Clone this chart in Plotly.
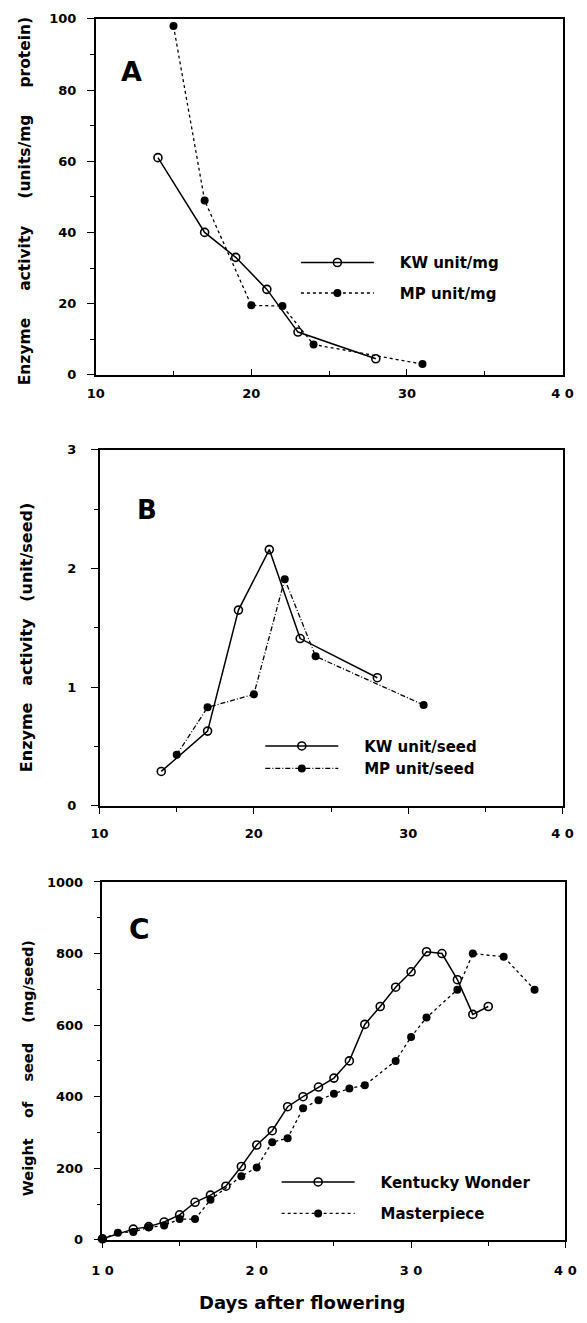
import plotly.graph_objects as go

W, H = 587, 1323

# ---------------- data ----------------
# Panel A: enzyme activity (units/mg protein)
a_kw_days = [14, 17, 19, 21, 23, 28]
a_kw_vals = [61, 40, 33, 24, 12, 4.5]
a_mp_days = [15, 17, 20, 22, 24, 31]
a_mp_vals = [98, 49, 19.5, 19.3, 8.5, 3]

# Panel B: enzyme activity (unit/seed)
b_kw_days = [14, 17, 19, 21, 23, 28]
b_kw_vals = [0.29, 0.63, 1.65, 2.16, 1.41, 1.08]
b_mp_days = [15, 17, 20, 22, 24, 31]
b_mp_vals = [0.43, 0.83, 0.94, 1.91, 1.26, 0.85]

# Panel C: weight of seed (mg/seed)
c_kw_days = [10, 12, 13, 14, 15, 16, 17, 18, 19, 20, 21, 22, 23, 24, 25,
             26, 27, 28, 29, 30, 31, 32, 33, 34, 35]
c_kw_vals = [3, 30, 37, 50, 70, 105, 125, 150, 205, 265, 305, 372, 400, 427, 452,
             500, 602, 652, 706, 749, 805, 800, 727, 630, 652]
c_mp_days = [10, 11, 12, 13, 14, 15, 16, 17, 19, 20, 21, 22, 23, 24, 25,
             26, 27, 29, 30, 31, 33, 34, 36, 38]
c_mp_vals = [3, 20, 22, 35, 40, 58, 58, 112, 178, 202, 273, 284, 368, 390, 408,
             423, 432, 500, 567, 621, 699, 800, 791, 699]

x_tickvals = [10, 20, 30, 40]
x_ticktext_a = ["10", "20", "30", "4 0"]
x_ticktext_b = ["10", "20", "30", "4 0"]
x_ticktext_c = ["1 0", "2 0", "3 0", "4 0"]

# ---------------- layout helpers ----------------
def xdom(l, r):
    return [l / W, r / W]

def ydom(top, bottom):
    return [1 - bottom / H, 1 - top / H]

FONT = "DejaVu Sans"

open_marker = dict(symbol="circle-open", size=8, color="black", line=dict(width=1.6, color="black"))
fill_marker = dict(symbol="circle", size=8, color="black")

NBSP = "\u00a0"

fig = go.Figure()

def add_pair(xa, ya, kw_x, kw_y, mp_x, mp_y, kw_name, mp_name, leg, mp_dash):
    fig.add_trace(go.Scatter(
        x=kw_x, y=kw_y, mode="lines+markers", name=kw_name,
        line=dict(color="black", width=1.5), marker=open_marker,
        xaxis=xa, yaxis=ya, legend=leg, legendgroup=leg + "kw", cliponaxis=False))
    fig.add_trace(go.Scatter(
        x=mp_x, y=mp_y, mode="lines+markers", name=mp_name,
        line=dict(color="black", width=1.3, dash=mp_dash), marker=fill_marker,
        xaxis=xa, yaxis=ya, legend=leg, legendgroup=leg + "mp", cliponaxis=False))

pad = NBSP * 4
add_pair("x", "y", a_kw_days, a_kw_vals, a_mp_days, a_mp_vals,
         pad + "KW unit/mg", pad + "MP unit/mg", "legend", "dot")
add_pair("x2", "y2", b_kw_days, b_kw_vals, b_mp_days, b_mp_vals,
         pad + "KW unit/seed", pad + "MP unit/seed", "legend2", "5px,2px,1px,2px")
add_pair("x3", "y3", c_kw_days, c_kw_vals, c_mp_days, c_mp_vals,
         pad + "Kentucky Wonder", pad + "Masterpiece", "legend3", "dot")

axis_common = dict(showline=True, linecolor="black", linewidth=1.5, mirror=True,
                   showgrid=False, zeroline=False,
                   tickfont=dict(family=FONT, size=13, color="black", weight="bold"),
                   tickcolor="black", tickwidth=1.3)

def xaxis(dom, anchor, ticktext, ticks, standoff):
    return dict(axis_common, domain=dom, anchor=anchor, range=[10, 40],
                tickvals=x_tickvals, ticktext=ticktext, ticks=ticks, ticklen=6,
                ticklabelstandoff=standoff,
                minor=dict(dtick=5, tick0=10, ticks=ticks, ticklen=4, tickcolor="black"))

def yaxis(dom, anchor, rng, dtick, mdtick, standoff):
    return dict(axis_common, domain=dom, anchor=anchor, range=rng, dtick=dtick, tick0=0,
                ticks="outside", ticklen=7, ticklabelstandoff=standoff,
                minor=dict(dtick=mdtick, tick0=0, ticks="outside", ticklen=4, tickcolor="black"))

fig.update_layout(
    width=W, height=H,
    margin=dict(l=0, r=0, t=0, b=0),
    paper_bgcolor="white", plot_bgcolor="white",
    xaxis=xaxis(xdom(88, 573), "y", x_ticktext_a, "inside", 6),
    yaxis=yaxis(ydom(12, 372), "x", [0, 100], 20, 10, 8),
    xaxis2=xaxis(xdom(92, 573), "y2", x_ticktext_b, "outside", 9),
    yaxis2=yaxis(ydom(448, 808), "x2", [0, 3], 1, 0.5, 12),
    xaxis3=xaxis(xdom(95, 576), "y3", x_ticktext_c, "outside", 12),
    yaxis3=yaxis(ydom(885, 1247), "x3", [0, 1000], 200, 100, 8),
)

leg_common = dict(bgcolor="rgba(0,0,0,0)", borderwidth=0, itemwidth=73,
                  font=dict(family=FONT, size=15, color="black", weight="bold"),
                  xanchor="left", yanchor="top", xref="paper", yref="paper",
                  traceorder="grouped", itemclick=False)
fig.update_layout(
    legend=dict(leg_common, x=296 / W, y=1 - 242 / H, tracegroupgap=8),
    legend2=dict(leg_common, x=259 / W, y=1 - 731 / H, tracegroupgap=0),
    legend3=dict(leg_common, x=276 / W, y=1 - 1172 / H, tracegroupgap=9),
)

anns = [
    dict(text="A", x=125, y=65, size=27),
    dict(text="B", x=141, y=509, size=26),
    dict(text="C", x=133, y=933, size=28),
]
for a in anns:
    fig.add_annotation(text=a["text"], x=a["x"] / W, y=1 - a["y"] / H, xref="paper", yref="paper",
                       showarrow=False, xanchor="center", yanchor="middle",
                       font=dict(family=FONT, size=a["size"], color="black", weight="bold"))

def spaced(words, n):
    return (NBSP * n).join(words)

ytitles = [
    (spaced(["Enzyme", "activity", "(units/mg", "protein)"], 5), 14, 196, 15.5),
    (spaced(["Enzyme", "activity", "(unit/seed)"], 3), 16, 638, 16),
    (spaced(["Weight", "of", "seed", "(mg/seed)"], 4), 18, 1073, 14.5),
]
for t, xx, yy, fs in ytitles:
    fig.add_annotation(text=t, x=xx / W, y=1 - yy / H, xref="paper", yref="paper",
                       showarrow=False, textangle=-90, xanchor="center", yanchor="middle",
                       font=dict(family=FONT, size=fs, color="black", weight="bold"))

fig.add_annotation(text="Days after flowering", x=302 / W, y=1 - 1310 / H, xref="paper", yref="paper",
                   showarrow=False, xanchor="center", yanchor="middle",
                   font=dict(family=FONT, size=18, color="black", weight="bold"))

fig.write_html("out.html", config={"displayModeBar": False},
               post_script="document.body.style.margin='0';document.body.style.overflow='hidden';")
